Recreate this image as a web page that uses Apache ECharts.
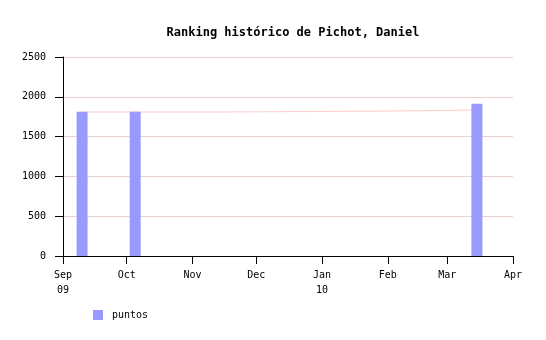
<!DOCTYPE html>
<html>
<head>
<meta charset="utf-8">
<script src="https://cdn.jsdelivr.net/npm/echarts@6/dist/echarts.min.js"></script>
<style>html,body{margin:0;padding:0;background:#fff}#c{width:546px;height:340px}</style>
</head>
<body>
<div id="c"></div>
<script>
var titleText = 'Ranking histórico de Pichot, Daniel';
var seriesName = 'puntos';
var barDates = ['2009-09-10', '2009-10-05', '2010-03-15'];
var barValues = [1812, 1812, 1912];
var stepDates = ['2009-09-10', '2009-11-14', '2010-02-02', '2010-03-15'];
var stepValues = [1809, 1821, 1834, 1834];
var monthNames = ['Jan','Feb','Mar','Apr','May','Jun','Jul','Aug','Sep','Oct','Nov','Dec'];
var xMin = '2009-09-01';
var xMax = '2010-04-01';
var yMin = 0, yMax = 2500, yStep = 500;

function parseD(s){ var p = s.split('-'); return Date.UTC(+p[0], +p[1]-1, +p[2]); }
var minT = parseD(xMin), maxT = parseD(xMax);
var DAY = 86400000;
var font = 'DejaVu Sans Mono';

var chart = echarts.init(document.getElementById('c'), null, {renderer:'canvas'});
chart.setOption({
  animation: false,
  useUTC: true,
  backgroundColor: '#fff',
  title: {
    text: titleText,
    left: 288, top: 22, textAlign: 'center',
    textStyle: {fontFamily: font, fontSize: 12, fontWeight: 'bold', color: '#000'}
  },
  legend: {
    data: [seriesName],
    left: 93, top: 310, padding: 0,
    itemWidth: 10, itemHeight: 10, icon: 'rect',
    textStyle: {fontFamily: font, fontSize: 10, color: '#000', padding: [0,0,0,4]}
  },
  grid: {left: 63, right: 33, top: 57, bottom: 84, containLabel: false},
  xAxis: [{
    type: 'time', min: minT, max: maxT,
    splitNumber: 7, minInterval: 28*DAY, maxInterval: 31*DAY,
    axisLine: {lineStyle: {color: '#000', width: 1}},
    axisTick: {show: true, length: 8, lineStyle: {color: '#000'}},
    splitLine: {show: false},
    axisLabel: {
      fontFamily: font, fontSize: 10, color: '#000', margin: 12, lineHeight: 15,
      showMinLabel: true, showMaxLabel: true, hideOverlap: false,
      formatter: function(v){
        var d = new Date(v);
        var s = monthNames[d.getUTCMonth()];
        if (d.getUTCMonth() === 0 || v === minT) s += '\n' + String(d.getUTCFullYear()).slice(2);
        return s;
      }
    }
  }, {
    type: 'value', min: minT, max: maxT, show: false,
    splitLine: {show: false}
  }],
  yAxis: {
    type: 'value', min: yMin, max: yMax, interval: yStep,
    axisLine: {show: true, lineStyle: {color: '#000', width: 1}},
    axisTick: {show: true, length: 8, lineStyle: {color: '#000'}},
    splitLine: {show: true, lineStyle: {color: '#e6d4cc', width: 1}},
    axisLabel: {fontFamily: font, fontSize: 10, color: '#000', margin: 17,
      formatter: function(v){ return String(v); }}
  },
  series: [
    {
      name: 'step', type: 'line', step: 'end', xAxisIndex: 0,
      data: stepDates.map(function(d,i){ return [parseD(d), stepValues[i]]; }),
      showSymbol: false, symbol: 'none',
      lineStyle: {color: '#ffcccc', width: 1},
      itemStyle: {color: '#ffcccc'},
      z: 1, silent: true
    },
    {
      name: seriesName, type: 'bar', barWidth: 11, xAxisIndex: 1,
      data: barDates.map(function(d,i){ return [parseD(d), barValues[i]]; }),
      itemStyle: {color: '#9999ff'},
      z: 2
    }
  ]
});
</script>
</body>
</html>
